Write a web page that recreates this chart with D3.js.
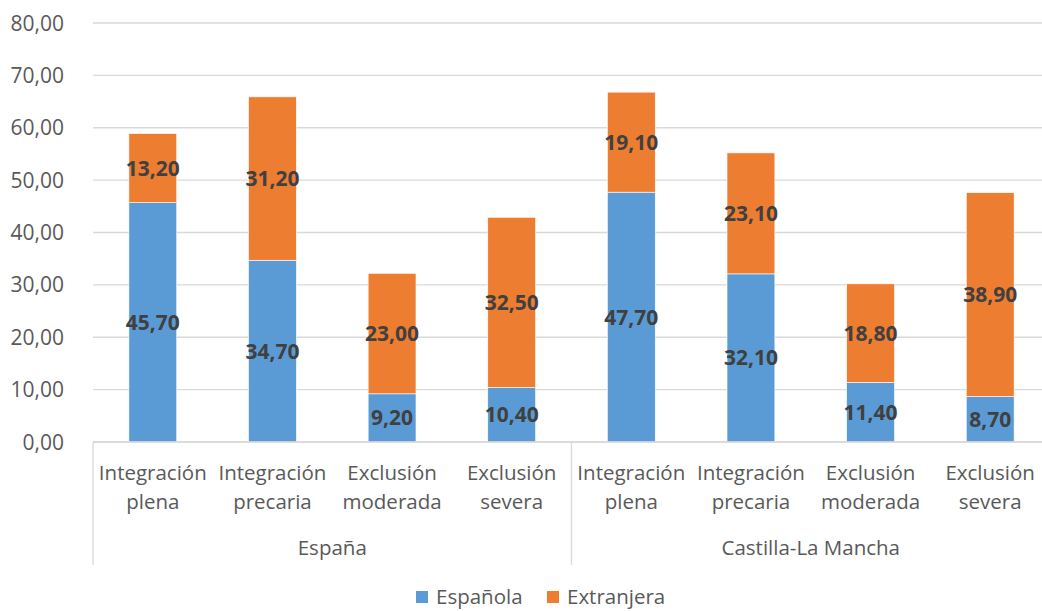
<!DOCTYPE html>
<html>
<head>
<meta charset="utf-8">
<script src="https://cdn.jsdelivr.net/npm/d3@7"></script>
<style>
  html, body { margin: 0; padding: 0; background: #fff; }
  svg { display: block; font-family: "Open Sans", sans-serif; }
</style>
</head>
<body>
<svg id="chart" width="1042" height="611"></svg>
<script>
const groups = ["España", "Castilla-La Mancha"];
const categories = [
  ["Integración", "plena"],
  ["Integración", "precaria"],
  ["Exclusión", "moderada"],
  ["Exclusión", "severa"]
];
const seriesNames = ["Española", "Extranjera"];
const espanola = [45.7, 34.7, 9.2, 10.4, 47.7, 32.1, 11.4, 8.7];
const extranjera = [13.2, 31.2, 23.0, 32.5, 19.1, 23.1, 18.8, 38.9];
const yTicks = [0, 10, 20, 30, 40, 50, 60, 70, 80];
const colors = ["#5B9BD5", "#ED7D31"];

const svg = d3.select("#chart");
const plotL = 93, plotR = 1050, plotT = 23, plotB = 442;

const rows = [];
groups.forEach((g, gi) => categories.forEach((c, ci) => {
  const i = gi * categories.length + ci;
  rows.push({ key: i, group: g, cat: c, Española: espanola[i], Extranjera: extranjera[i] });
}));

const x = d3.scaleBand().domain(rows.map(d => d.key)).range([plotL, plotR])
  .paddingInner(0.6).paddingOuter(0.3);
const xg = d3.scaleBand().domain(groups).range([plotL, plotR]);
const y = d3.scaleLinear().domain([0, 80]).range([plotB, plotT]);

const fmt = v => d3.format(".2f")(v).replace(".", ",");

// gridlines
svg.append("g").selectAll("line").data(yTicks).join("line")
  .attr("x1", plotL).attr("x2", plotR)
  .attr("y1", d => y(d)).attr("y2", d => y(d))
  .attr("stroke", "#D9D9D9").attr("stroke-width", 1.3);

// y tick labels
svg.append("g").selectAll("text").data(yTicks).join("text")
  .attr("x", 64).attr("y", d => y(d)).attr("dy", "0.36em")
  .attr("text-anchor", "end").attr("fill", "#595959")
  .style("font-size", "21px").text(fmt);

// stacked bars
const stack = d3.stack().keys(seriesNames)(rows);
const layer = svg.append("g").selectAll("g").data(stack).join("g")
  .attr("fill", (d, i) => colors[i]);
layer.selectAll("rect").data(d => d).join("rect")
  .attr("x", d => x(d.data.key)).attr("width", x.bandwidth())
  .attr("y", d => y(d[1])).attr("height", d => y(d[0]) - y(d[1]))
  .attr("stroke", "#fff").attr("stroke-width", 0.6);

// data labels
const lbl = svg.append("g");
stack.forEach(s => {
  lbl.selectAll(null).data(s).join("text")
    .attr("x", d => x(d.data.key) + x.bandwidth() / 2)
    .attr("y", d => y((d[0] + d[1]) / 2)).attr("dy", "0.36em")
    .attr("text-anchor", "middle").attr("fill", "#404040")
    .style("font-size", "21px").style("font-weight", "bold")
    .text(d => fmt(d[1] - d[0]));
});

// x axis
const ax = svg.append("g");
ax.append("line").attr("x1", plotL).attr("x2", plotR).attr("y1", plotB).attr("y2", plotB)
  .attr("stroke", "#D9D9D9").attr("stroke-width", 1.3);
const seps = [plotL, ...groups.map(g => xg(g) + xg.bandwidth())];
ax.selectAll("line.sep").data(seps).join("line").attr("class", "sep")
  .attr("x1", d => d).attr("x2", d => d).attr("y1", plotB).attr("y2", 565)
  .attr("stroke", "#D9D9D9").attr("stroke-width", 1.3);
const catText = ax.selectAll("text.cat").data(rows).join("text").attr("class", "cat")
  .attr("text-anchor", "middle").attr("fill", "#595959").style("font-size", "20.5px");
catText.append("tspan").attr("x", d => x(d.key) + x.bandwidth() / 2).attr("y", 480)
  .text(d => d.cat[0]);
catText.append("tspan").attr("x", d => x(d.key) + x.bandwidth() / 2).attr("y", 509)
  .text(d => d.cat[1]);
ax.selectAll("text.grp").data(groups).join("text").attr("class", "grp")
  .attr("x", d => xg(d) + xg.bandwidth() / 2).attr("y", 555)
  .attr("text-anchor", "middle").attr("fill", "#595959").style("font-size", "20.5px")
  .text(d => d);

// legend
const legX = [416, 547];
const leg = svg.append("g").selectAll("g").data(seriesNames).join("g")
  .attr("transform", (d, i) => `translate(${legX[i]},591)`);
leg.append("rect").attr("width", 12).attr("height", 12).attr("fill", (d, i) => colors[i]);
leg.append("text").attr("x", 20).attr("y", 6).attr("dy", "0.36em")
  .attr("fill", "#595959").style("font-size", "20.5px").text(d => d);
</script>
</body>
</html>
